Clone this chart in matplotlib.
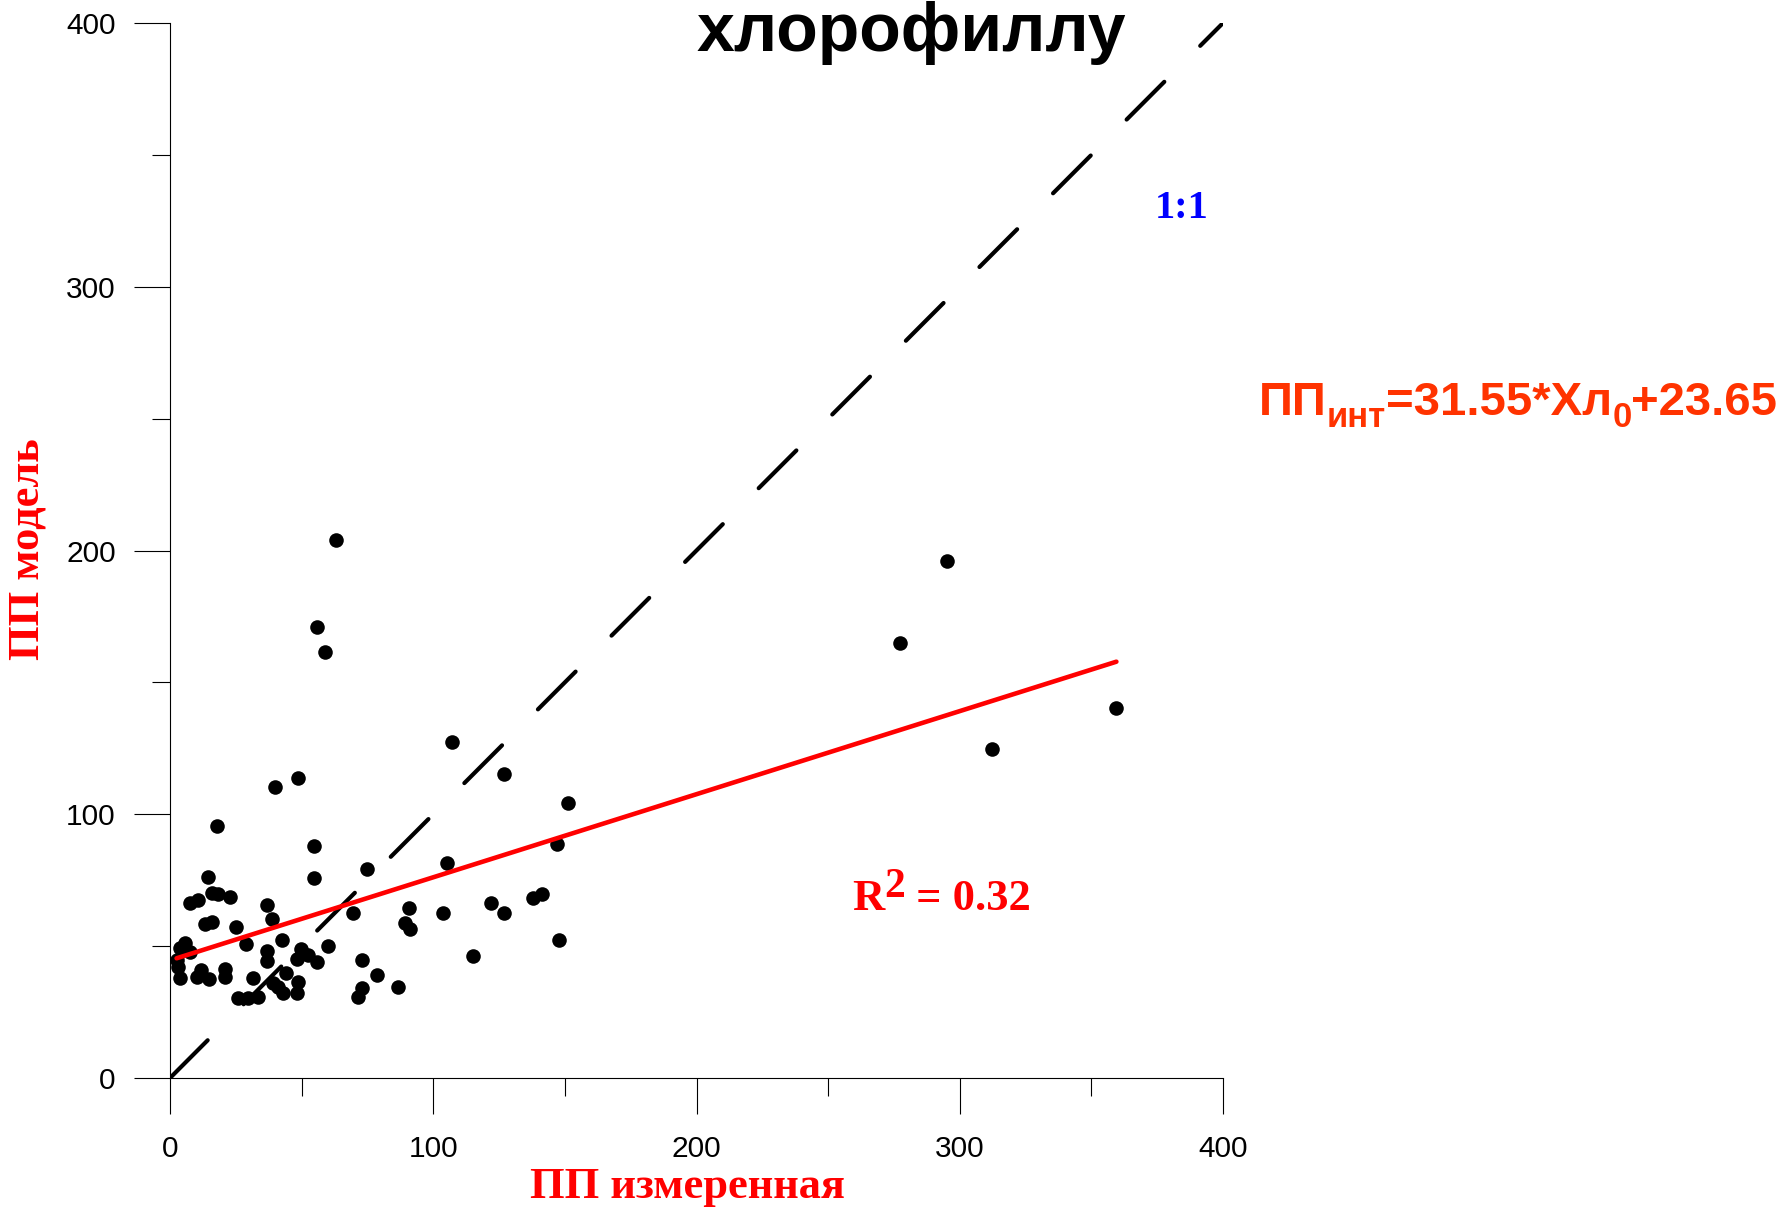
import matplotlib
matplotlib.use("Agg")
import matplotlib.pyplot as plt
import numpy as np

# measured vs modelled primary production
pp_measured = [7.6, 10.8, 15.8, 18.1, 22.8, 36.7, 38.9, 13.3, 15.8, 25.0, 5.7, 3.8, 7.6, 2.5,
               2.9, 3.8, 11.8, 10.1, 14.8, 20.9, 20.9, 28.9, 37.0, 37.0, 42.7, 31.7, 25.7, 29.8,
               33.5, 39.2, 41.0, 43.0, 43.9, 48.1, 48.7, 49.8, 52.5, 48.1, 56.0, 59.9, 69.6, 72.8,
               78.8, 72.8, 71.5, 86.7, 90.9, 89.3, 91.2,
               39.9, 48.7, 17.7, 54.8, 14.6, 54.8, 75.0,
               107.0, 127.0, 151.1, 147.1, 105.1, 103.8, 121.9, 127.0, 138.0, 141.2, 147.9, 115.0,
               63.1, 56.0, 58.9,
               295.3, 277.2, 312.1, 359.5]
pp_model = [66.5, 67.5, 70.3, 69.6, 68.7, 65.6, 60.2, 58.4, 59.3, 57.4, 51.3, 49.2, 47.9, 44.7,
            42.2, 37.8, 40.9, 38.4, 37.4, 41.2, 38.2, 50.7, 48.2, 44.5, 52.3, 38.0, 30.2, 30.2,
            30.8, 35.9, 34.4, 32.1, 39.9, 32.1, 36.5, 48.8, 46.6, 45.0, 44.1, 50.0, 62.4, 44.7,
            39.2, 34.0, 30.6, 34.6, 64.3, 58.7, 56.4,
            110.4, 113.9, 95.7, 88.1, 76.3, 75.7, 79.1,
            127.5, 115.1, 104.2, 88.6, 81.6, 62.7, 66.2, 62.7, 68.4, 69.6, 52.3, 46.4,
            203.9, 171.1, 161.6,
            196.2, 164.8, 124.8, 140.3]

# linear trend of model vs measured
fit_intercept = 44.6
fit_slope = 0.315
r2 = 0.32

W, H = 1779, 1211
fig = plt.figure(figsize=(W / 100, H / 100), dpi=100)
ax = fig.add_axes([170 / W, 1 - 1078 / H, (1223 - 170) / W, (1078 - 23) / H])
ax.set_xlim(0, 400)
ax.set_ylim(0, 400)

# 1:1 line
ax.plot([0, 400], [0, 400], color='black', lw=3.0, dashes=(12.8, 12.2),
        solid_capstyle='round', dash_capstyle='round', zorder=2)

xs = np.array(pp_measured)
ax.scatter(xs, pp_model, s=110, color='black', zorder=3, linewidths=0)

fx = np.array([xs.min(), xs.max()])
ax.plot(fx, fit_intercept + fit_slope * fx, color='#ff0000', lw=3.3,
        solid_capstyle='round', zorder=4)

for s in ['top', 'right']:
    ax.spines[s].set_visible(False)
for s in ['left', 'bottom']:
    ax.spines[s].set_linewidth(0.8)

ax.set_xticks([0, 100, 200, 300, 400])
ax.set_yticks([0, 100, 200, 300, 400])
ax.set_xticks([50, 150, 250, 350], minor=True)
ax.set_yticks([50, 150, 250, 350], minor=True)
ax.tick_params(which='major', direction='out', length=26, width=0.8, labelsize=21.5, pad=15)
ax.tick_params(axis='y', which='major', pad=13)
ax.tick_params(which='minor', direction='out', length=13, width=0.8)
for lab in ax.get_xticklabels() + ax.get_yticklabels():
    lab.set_fontfamily('Liberation Sans')

serif_bold = dict(family='Liberation Serif', weight='bold')
fig.text(687 / W, 1 - 1187 / H, 'ПП измеренная', color='#ff0000', fontsize=32,
         ha='center', va='center', **serif_bold)
fig.text(28 / W, 1 - 549 / H, 'ПП модель', color='#ff0000', fontsize=32, rotation=90,
         ha='center', va='center', **serif_bold)

# title line (top part runs off the figure)
fig.text(911 / W, 1 - 51 / H, 'хлорофиллу', color='black', fontsize=49,
         family='Liberation Sans', weight='bold', ha='center', va='baseline')

fig.text(1182 / W, 1 - 209 / H, '1:1', color='#0000ff', fontsize=29,
         ha='center', va='center', **serif_bold)

renderer = fig.canvas.get_renderer()


def run_text(x0, y0, pieces, color, family):
    # lay out text pieces left to right (pixel coords), each with its own size and shift
    x = x0
    for txt, size, dy in pieces:
        t = fig.text(x / W, 1 - (y0 + dy) / H, txt, color=color, fontsize=size,
                     family=family, weight='bold', ha='left', va='baseline')
        bb = t.get_window_extent(renderer)
        x += bb.width


run_text(852, 910, [('R', 32, 0), ('2', 30, -13), (' = %.2f' % r2, 32, 0)],
         '#ff0000', 'Liberation Serif')

run_text(1259, 415, [('ПП', 34, 0), ('инт', 25, 12), ('=31.55*Хл', 34, 0),
                     ('0', 25, 12), ('+23.65', 34, 0)],
         '#ff3300', 'Liberation Sans')

fig.savefig('out.png', dpi=100)
